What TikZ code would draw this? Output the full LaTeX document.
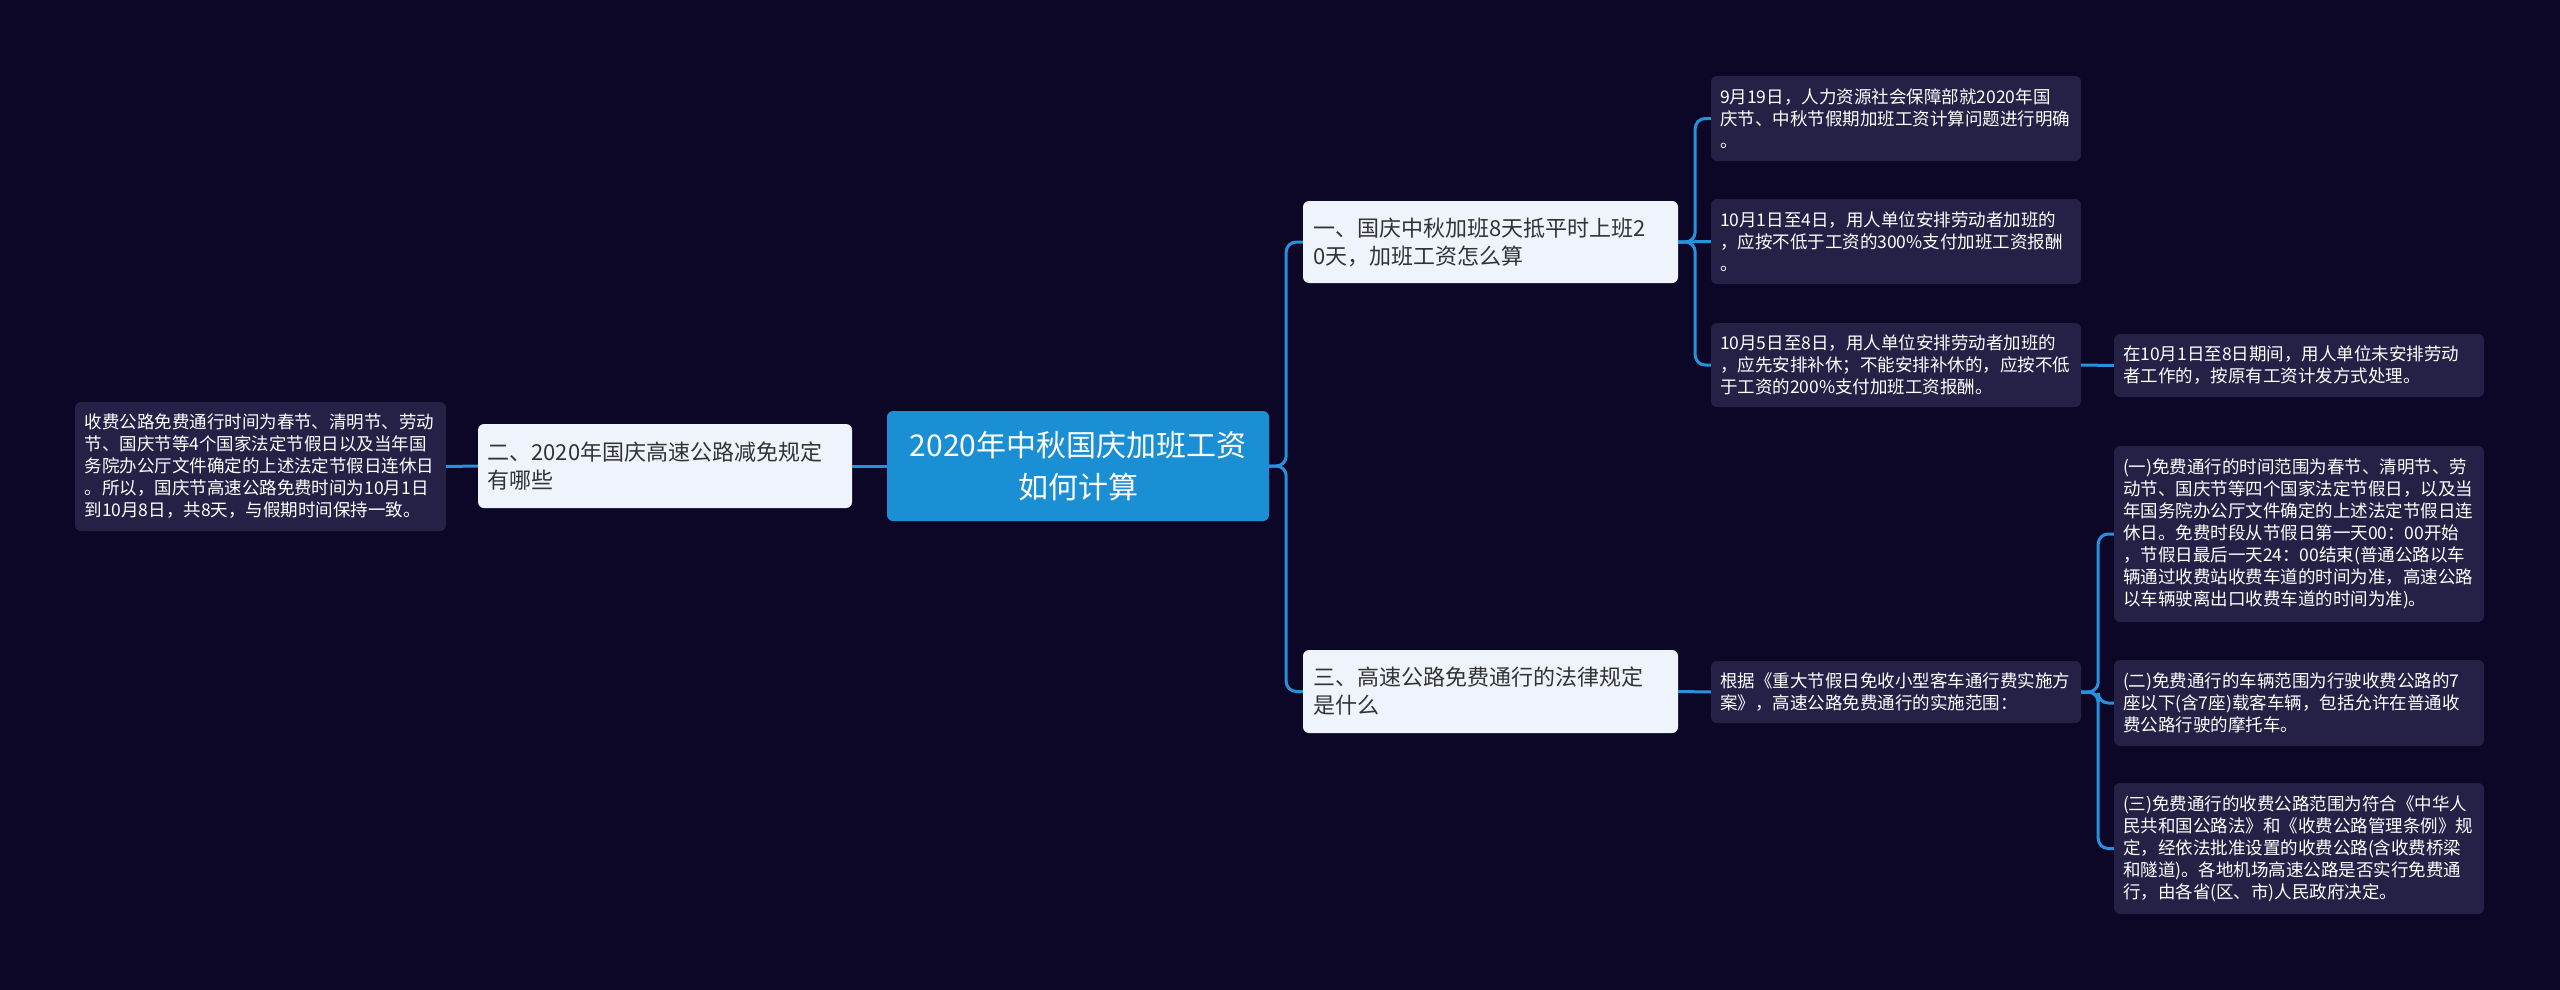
\documentclass[tikz,border=0pt]{standalone}
\usepackage{fontspec}
\setmainfont{Noto Sans CJK SC}
\definecolor{bgc}{RGB}{12,7,39}
\definecolor{leafc}{RGB}{37,33,70}
\definecolor{branchc}{RGB}{238,243,252}
\definecolor{rootc}{RGB}{27,143,212}
\definecolor{linec}{RGB}{38,146,221}
\definecolor{darktext}{RGB}{51,51,51}
\tikzset{
  box/.style={rectangle, rounded corners=6pt, inner xsep=9pt, inner ysep=0pt, align=left},
  leaf/.style={box, fill=leafc, text=white, minimum width=370pt, text width=352pt,
    font=\fontsize{17.5pt}{22pt}\selectfont},
  branch/.style={box, fill=branchc, text=darktext, minimum width=375pt, text width=355pt,
    font=\fontsize{22pt}{28pt}\selectfont},
  rootbox/.style={box, fill=rootc, text=white, minimum width=382pt, minimum height=110pt,
    align=center, text width=364pt, font=\fontsize{30pt}{42pt}\selectfont},
  conn/.style={draw=linec, line width=3pt, rounded corners=10pt}
}
\begin{document}
\begin{tikzpicture}[x=1pt,y=-1pt]
\fill[bgc] (0,0) rectangle (2560,990);
\useasboundingbox (0,0) rectangle (2560,990);

\node[rootbox] (root) at (1078,466) {2020年中秋国庆加班工资\\如何计算};

\node[branch, minimum width=374pt, minimum height=84pt] (lb) at (665,466)
  {二、2020年国庆高速公路减免规定\\有哪些};
\node[leaf, minimum width=371pt, minimum height=129pt] (ll) at (260.5,466.5)
  {收费公路免费通行时间为春节、清明节、劳动\\节、国庆节等4个国家法定节假日以及当年国\\务院办公厅文件确定的上述法定节假日连休日\\。所以，国庆节高速公路免费时间为10月1日\\到10月8日，共8天，与假期时间保持一致。};

\node[branch, minimum height=82pt] (b1) at (1490.5,242)
  {一、国庆中秋加班8天抵平时上班2\\0天，加班工资怎么算};
\node[branch, minimum height=83pt] (b3) at (1490.5,691.5)
  {三、高速公路免费通行的法律规定\\是什么};

\node[leaf, minimum height=85pt] (l1) at (1896,118.5)
  {9月19日，人力资源社会保障部就2020年国\\庆节、中秋节假期加班工资计算问题进行明确\\。};
\node[leaf, minimum height=85pt] (l2) at (1896,241.5)
  {10月1日至4日，用人单位安排劳动者加班的\\，应按不低于工资的300\%支付加班工资报酬\\。};
\node[leaf, minimum height=84pt] (l3) at (1896,365)
  {10月5日至8日，用人单位安排劳动者加班的\\，应先安排补休；不能安排补休的，应按不低\\于工资的200\%支付加班工资报酬。};
\node[leaf, minimum height=63pt] (l4) at (2299,365.5)
  {在10月1日至8日期间，用人单位未安排劳动\\者工作的，按原有工资计发方式处理。};

\node[leaf, minimum height=62pt] (l5) at (1896,692)
  {根据《重大节假日免收小型客车通行费实施方\\案》，高速公路免费通行的实施范围：};
\node[leaf, minimum height=176pt] (l6) at (2299,534)
  {(一)免费通行的时间范围为春节、清明节、劳\\动节、国庆节等四个国家法定节假日，以及当\\年国务院办公厅文件确定的上述法定节假日连\\休日。免费时段从节假日第一天00：00开始\\，节假日最后一天24：00结束(普通公路以车\\辆通过收费站收费车道的时间为准，高速公路\\以车辆驶离出口收费车道的时间为准)。};
\node[leaf, minimum height=86pt] (l7) at (2299,703)
  {(二)免费通行的车辆范围为行驶收费公路的7\\座以下(含7座)载客车辆，包括允许在普通收\\费公路行驶的摩托车。};
\node[leaf, minimum height=131pt] (l8) at (2299,848.5)
  {(三)免费通行的收费公路范围为符合《中华人\\民共和国公路法》和《收费公路管理条例》规\\定，经依法批准设置的收费公路(含收费桥梁\\和隧道)。各地机场高速公路是否实行免费通\\行，由各省(区、市)人民政府决定。};

% connectors
\draw[conn] (root.west) -- (lb.east);
\draw[conn] (lb.west) -- (ll.east);
\draw[conn] (root.east) -- ++(17,0) |- (b1.west);
\draw[conn] (root.east) -- ++(17,0) |- (b3.west);
\draw[conn] (b1.east) -- ++(17,0) |- (l1.west);
\draw[conn] (b1.east) -- (l2.west);
\draw[conn] (b1.east) -- ++(17,0) |- (l3.west);
\draw[conn] (l3.east) -- (l4.west);
\draw[conn] (b3.east) -- (l5.west);
\draw[conn] (l5.east) -- ++(17,0) |- (l6.west);
\draw[conn] (l5.east) -- ++(17,0) |- (l7.west);
\draw[conn] (l5.east) -- ++(17,0) |- (l8.west);
\end{tikzpicture}
\end{document}
